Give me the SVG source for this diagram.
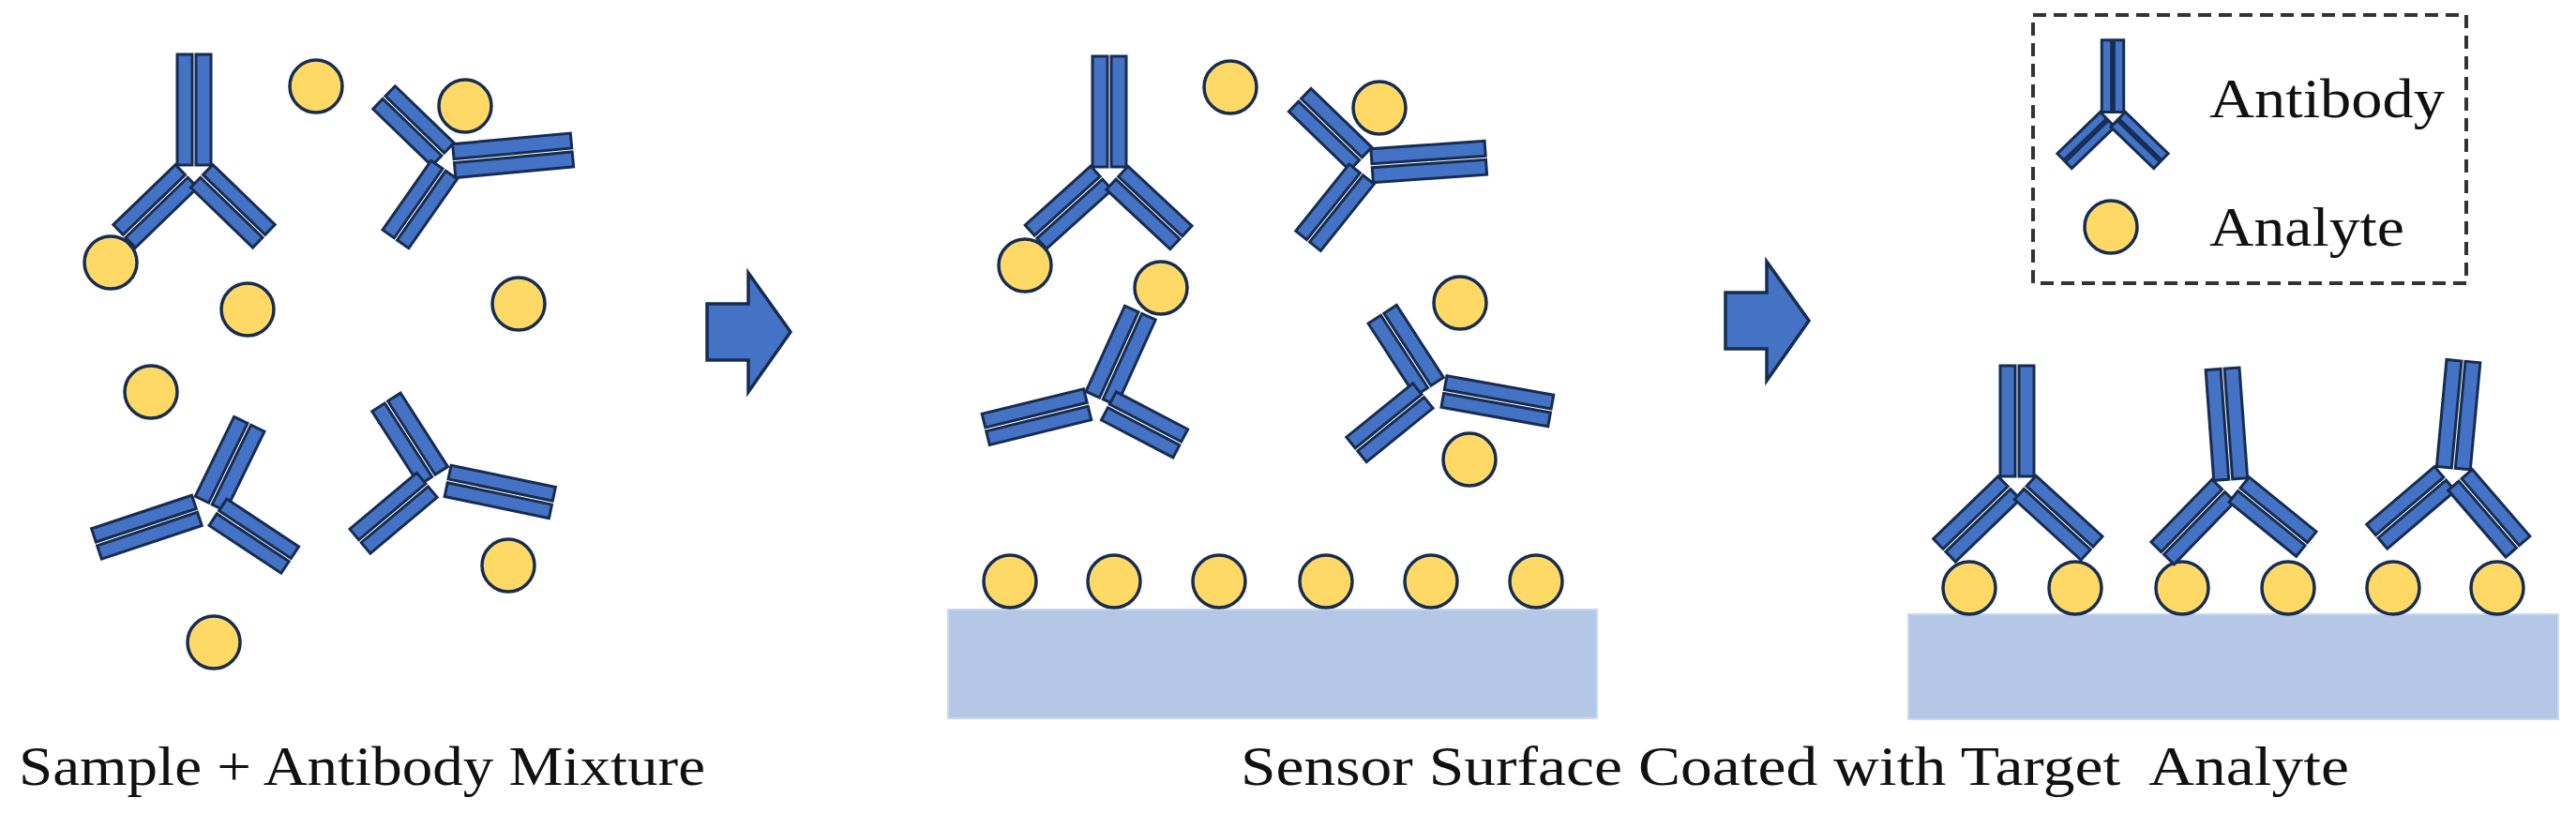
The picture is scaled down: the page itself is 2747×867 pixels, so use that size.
<svg xmlns="http://www.w3.org/2000/svg" width="2747" height="867" viewBox="0 0 2747 867">
<style>
.ab{fill:#4472C4;stroke:#172C51;stroke-width:3}
.an{fill:#FFD966;stroke:#172C51;stroke-width:3.5}
.surf{fill:#B4C7E7;stroke:#C9DAF0;stroke-width:2}
.arrow{fill:#4472C4;stroke:#172C51;stroke-width:3.5;stroke-linejoin:miter}
.t{font-family:"Palatino Linotype","Liberation Serif","DejaVu Serif",serif;fill:#111}
</style>
<defs>
<g id="stem"><rect x="-18" y="4" width="16" height="118" vector-effect="non-scaling-stroke"/><rect x="2" y="4" width="16" height="118" vector-effect="non-scaling-stroke"/></g>
<g id="arm"><rect x="-17" y="12" width="15" height="98" vector-effect="non-scaling-stroke"/><rect x="2" y="12" width="15" height="98" vector-effect="non-scaling-stroke"/></g>
</defs>
<rect width="2747" height="867" fill="#fff"/>

<!-- Panel 1 -->
<g id="abA" class="ab" transform="translate(207,180)">
<use href="#stem" transform="rotate(180)"/>
<use href="#arm" transform="rotate(46) scale(1,0.94)"/>
<use href="#arm" transform="rotate(-46) scale(1,0.94)"/>
</g>
<g id="abB" class="ab" transform="translate(480,172)">
<use href="#stem" transform="rotate(264.7) scale(1,1.07)"/>
<use href="#arm" transform="rotate(134) scale(1,0.89)"/>
<use href="#arm" transform="rotate(35) scale(1,0.92)"/>
</g>
<g id="abC" class="ab" transform="translate(223,540)">
<use href="#stem" transform="rotate(206) scale(1,0.8)"/>
<use href="#arm" transform="rotate(71.6) scale(1,1.15)"/>
<use href="#arm" transform="rotate(-56.5) scale(1,0.94)"/>
</g>
<g id="abD" class="ab" transform="translate(464,510)">
<use href="#stem" transform="rotate(147.3) scale(1,0.79)"/>
<use href="#arm" transform="rotate(-78.2) scale(1,1.16)"/>
<use href="#arm" transform="rotate(50) scale(1,0.95)"/>
</g>
<g id="analytes1">
<circle class="an" cx="118" cy="280" r="28"/>
<circle class="an" cx="337" cy="92" r="28"/>
<circle class="an" cx="496" cy="113" r="28"/>
<circle class="an" cx="264" cy="330" r="28"/>
<circle class="an" cx="553" cy="324" r="28"/>
<circle class="an" cx="161" cy="418" r="28"/>
<circle class="an" cx="542" cy="603" r="28"/>
<circle class="an" cx="228" cy="685" r="28"/>
</g>

<!-- Connectors -->
<g id="connectors">
<path class="arrow" d="M754,324 H798 V291 L843,354 L798,418 V384 H754 Z"/>
<path class="arrow" d="M1840,312 H1884 V279 L1929,342 L1884,406 V372 H1840 Z"/>
</g>

<!-- Panel 2 -->
<g id="abE" class="ab" transform="translate(1183,182)">
<use href="#stem" transform="rotate(180)"/>
<use href="#arm" transform="rotate(48) scale(1,0.96)"/>
<use href="#arm" transform="rotate(-47) scale(1,0.95)"/>
</g>
<g id="abF" class="ab" transform="translate(1459,177)">
<use href="#stem" transform="rotate(266) scale(1,1.03)"/>
<use href="#arm" transform="rotate(134) scale(1,0.92)"/>
<use href="#arm" transform="rotate(38.7) scale(1,0.93)"/>
</g>
<g id="abG" class="ab" transform="translate(1173,428)">
<use href="#stem" transform="rotate(204.4) scale(1,0.85)"/>
<use href="#arm" transform="rotate(76.2) scale(1,1.14)"/>
<use href="#arm" transform="rotate(-62.4) scale(1,0.88)"/>
</g>
<g id="abH" class="ab" transform="translate(1526,415)">
<use href="#stem" transform="rotate(147) scale(1,0.78)"/>
<use href="#arm" transform="rotate(-79.8) scale(1,1.18)"/>
<use href="#arm" transform="rotate(51) scale(1,0.93)"/>
</g>
<g id="analytes2">
<circle class="an" cx="1093" cy="283" r="28"/>
<circle class="an" cx="1312" cy="93" r="28"/>
<circle class="an" cx="1471" cy="115" r="28"/>
<circle class="an" cx="1238" cy="307" r="28"/>
<circle class="an" cx="1557" cy="323" r="28"/>
<circle class="an" cx="1567" cy="490" r="28"/>
</g>
<g id="surface2">
<rect class="surf" x="1011" y="650" width="692" height="116"/>
<circle class="an" cx="1077" cy="620" r="28"/>
<circle class="an" cx="1188" cy="620" r="28"/>
<circle class="an" cx="1300" cy="620" r="28"/>
<circle class="an" cx="1414" cy="620" r="28"/>
<circle class="an" cx="1526" cy="620" r="28"/>
<circle class="an" cx="1638" cy="620" r="28"/>
</g>

<!-- Panel 3 -->
<g id="surface3">
<rect class="surf" x="2035" y="655" width="693" height="112"/>
<circle class="an" cx="2100" cy="627" r="28"/>
<circle class="an" cx="2213" cy="627" r="28"/>
<circle class="an" cx="2327" cy="627" r="28"/>
<circle class="an" cx="2440" cy="627" r="28"/>
<circle class="an" cx="2552" cy="627" r="28"/>
<circle class="an" cx="2663" cy="627" r="28"/>
</g>
<g id="abI" class="ab" transform="translate(2151,512)">
<use href="#stem" transform="rotate(180)"/>
<use href="#arm" transform="rotate(46) scale(1,0.98)"/>
<use href="#arm" transform="rotate(-47.6) scale(1,0.98)"/>
</g>
<g id="abJ" class="ab" transform="translate(2379,515)">
<use href="#stem" transform="rotate(175.8)"/>
<use href="#arm" transform="rotate(44.2) scale(1,0.95)"/>
<use href="#arm" transform="rotate(-51) scale(1,0.94)"/>
</g>
<g id="abK" class="ab" transform="translate(2616,503)">
<use href="#stem" transform="rotate(185.3) scale(1,0.97)"/>
<use href="#arm" transform="rotate(49.6) scale(1,0.97)"/>
<use href="#arm" transform="rotate(-40.8) scale(1,0.96)"/>
</g>

<!-- Legend -->
<g id="legend">
<rect x="2168" y="16" width="462" height="286" fill="none" stroke="#333" stroke-width="4" stroke-dasharray="14 8"/>
<g class="ab" transform="translate(2253,122) scale(0.65)">
<use href="#stem" transform="rotate(180)"/>
<use href="#arm" transform="rotate(46)"/>
<use href="#arm" transform="rotate(-46)"/>
</g>
<circle class="an" cx="2251" cy="242" r="28"/>
<text class="t" x="2356" y="125" font-size="60" textLength="251" lengthAdjust="spacingAndGlyphs">Antibody</text>
<text class="t" x="2356" y="262" font-size="60" textLength="208" lengthAdjust="spacingAndGlyphs">Analyte</text>
</g>

<g id="captions">
<text class="t" x="20" y="837" font-size="60" textLength="732" lengthAdjust="spacingAndGlyphs">Sample + Antibody Mixture</text>
<text class="t" x="1323" y="837" font-size="60" textLength="1182" lengthAdjust="spacingAndGlyphs" xml:space="preserve">Sensor Surface Coated with Target  Analyte</text>
</g>
</svg>
